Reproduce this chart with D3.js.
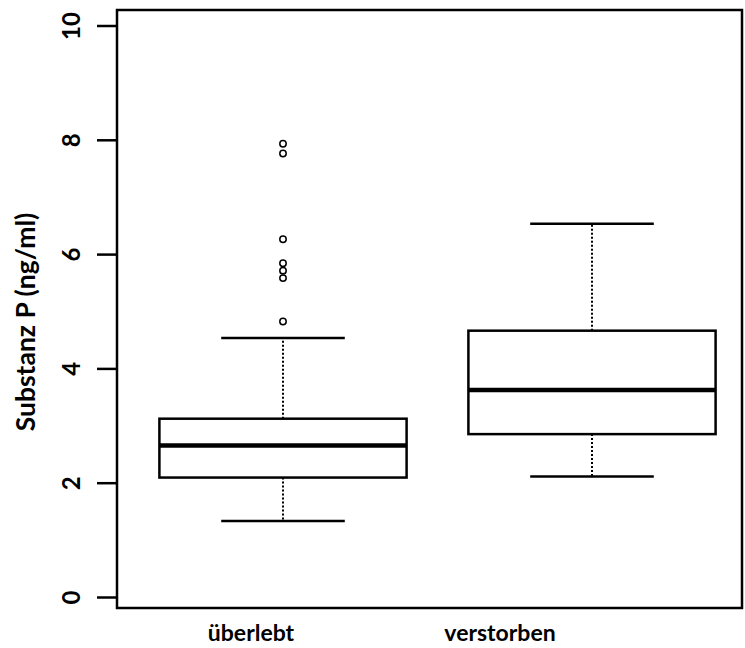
<!DOCTYPE html>
<html>
<head>
<meta charset="utf-8">
<script src="https://cdn.jsdelivr.net/npm/d3@7/dist/d3.min.js"></script>
<style>
  html, body { margin: 0; padding: 0; background: #fff; }
  svg text { font-family: Lato, "Open Sans", sans-serif; font-weight: bold; fill: #000; }
</style>
</head>
<body>
<svg id="chart" width="745" height="648"></svg>
<script>
// Groups and five-number summaries (ng/ml)
const groups = ["überlebt", "verstorben"];
const lowerWhisker = [1.33, 2.11];
const q1 = [2.09, 2.85];
const median = [2.65, 3.62];
const q3 = [3.12, 4.66];
const upperWhisker = [4.53, 6.53];
// Outlying values of the first group
const outliers = [[4.82, 5.58, 5.71, 5.84, 6.26, 7.76, 7.93], []];
const yTicks = [0, 2, 4, 6, 8, 10];
const yTitle = "Substanz P (ng/ml)";

const svg = d3.select("#chart");

const frame = { left: 117, right: 742, top: 10, bottom: 608 };

const y = d3.scaleLinear().domain([0, 10]).range([597, 25.5]);
const x = d3.scaleLinear().domain([1, 2]).range([283, 592]);
const labelX = d3.scalePoint().domain(groups).range([251, 500]);

const boxHalf = 0.4, capHalf = 0.2;

const data = groups.map((g, i) => ({
  g, i,
  lo: lowerWhisker[i], q1: q1[i], med: median[i], q3: q3[i], hi: upperWhisker[i],
  out: outliers[i]
}));

// Boxes
const box = svg.append("g").selectAll("g").data(data).join("g");

// whiskers (dotted)
box.append("line")
  .attr("x1", d => x(d.i + 1)).attr("x2", d => x(d.i + 1))
  .attr("y1", d => y(d.q3)).attr("y2", d => y(d.hi))
  .attr("stroke", "#000").attr("stroke-width", 2).attr("stroke-dasharray", "2,2");
box.append("line")
  .attr("x1", d => x(d.i + 1)).attr("x2", d => x(d.i + 1))
  .attr("y1", d => y(d.q1)).attr("y2", d => y(d.lo))
  .attr("stroke", "#000").attr("stroke-width", 2).attr("stroke-dasharray", "2,2");

// staples
box.append("line")
  .attr("x1", d => x(d.i + 1 - capHalf)).attr("x2", d => x(d.i + 1 + capHalf))
  .attr("y1", d => y(d.hi)).attr("y2", d => y(d.hi))
  .attr("stroke", "#000").attr("stroke-width", 2.5);
box.append("line")
  .attr("x1", d => x(d.i + 1 - capHalf)).attr("x2", d => x(d.i + 1 + capHalf))
  .attr("y1", d => y(d.lo)).attr("y2", d => y(d.lo))
  .attr("stroke", "#000").attr("stroke-width", 2.5);

// interquartile box
box.append("rect")
  .attr("x", d => x(d.i + 1 - boxHalf))
  .attr("width", d => x(d.i + 1 + boxHalf) - x(d.i + 1 - boxHalf))
  .attr("y", d => y(d.q3))
  .attr("height", d => y(d.q1) - y(d.q3))
  .attr("fill", "none").attr("stroke", "#000").attr("stroke-width", 2.5);

// median
box.append("line")
  .attr("x1", d => x(d.i + 1 - boxHalf)).attr("x2", d => x(d.i + 1 + boxHalf))
  .attr("y1", d => y(d.med)).attr("y2", d => y(d.med))
  .attr("stroke", "#000").attr("stroke-width", 4.5);

// outliers
box.selectAll("circle").data(d => d.out.map(v => ({ i: d.i, v }))).join("circle")
  .attr("cx", d => x(d.i + 1)).attr("cy", d => y(d.v)).attr("r", 3.2)
  .attr("fill", "none").attr("stroke", "#000").attr("stroke-width", 1.5);

// Frame
svg.append("rect")
  .attr("x", frame.left).attr("y", frame.top)
  .attr("width", frame.right - frame.left).attr("height", frame.bottom - frame.top)
  .attr("fill", "none").attr("stroke", "#000").attr("stroke-width", 2.5);

// Y axis
const yAxis = svg.append("g").attr("transform", `translate(${frame.left},0)`)
  .call(d3.axisLeft(y).tickValues(yTicks).tickSize(20).tickPadding(0).tickFormat(d3.format("d")));
yAxis.select(".domain").remove();
yAxis.selectAll(".tick line").attr("stroke", "#000").attr("stroke-width", 2.5);
yAxis.selectAll(".tick text")
  .attr("x", null).attr("dy", null)
  .attr("text-anchor", "middle")
  .attr("transform", "translate(-37,0) rotate(-90)")
  .style("font-size", "24px");

// Y title
svg.append("text")
  .attr("transform", "translate(35,322) rotate(-90)")
  .attr("text-anchor", "middle")
  .style("font-size", "26.5px")
  .text(yTitle);

// Group labels
svg.append("g").selectAll("text").data(groups).join("text")
  .attr("x", d => labelX(d)).attr("y", 641)
  .attr("text-anchor", "middle")
  .style("font-size", "23px")
  .text(d => d);
</script>
</body>
</html>
